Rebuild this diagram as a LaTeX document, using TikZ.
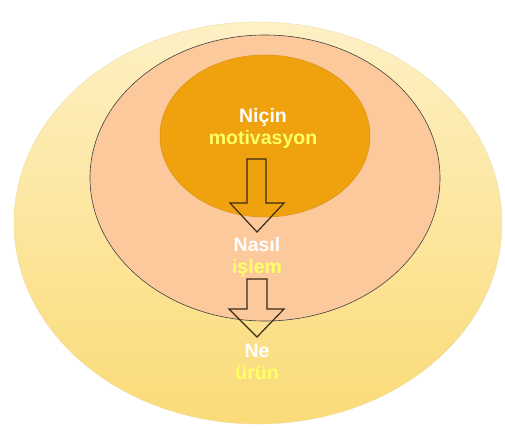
\documentclass[tikz,border=0pt]{standalone}
\usepackage{fontspec}
\setmainfont{Liberation Sans}
\begin{document}
\begin{tikzpicture}[x=1pt,y=-1pt,
  whitetxt/.style={font=\bfseries\fontsize{19.5}{22}\selectfont, text=white, inner sep=0pt},
  yeltxt/.style={font=\bfseries\fontsize{19.5}{22}\selectfont, text=yellowtxt, inner sep=0pt},
  bigarrow/.style={draw=arrowc, line width=1.2pt, line join=miter}]
\definecolor{outerA}{HTML}{FDF0C4}
\definecolor{outerB}{HTML}{FBDB78}
\definecolor{midc}{HTML}{FBC99C}
\definecolor{innerc}{HTML}{EFA20E}
\definecolor{innerd}{HTML}{D98E10}
\definecolor{arrowc}{HTML}{3A2A18}
\definecolor{yellowtxt}{HTML}{FFFF66}
\useasboundingbox (0,0) rectangle (505,430);
\fill[white] (0,0) rectangle (505,430);
% outer ellipse
\shade[shading angle=200, top color=outerA, bottom color=outerB, draw=outerB!80!black!30!outerA, line width=0.4pt]
  (258,223) ellipse [x radius=244, y radius=201];
% middle ellipse
\filldraw[fill=midc, draw=black!75, line width=0.6pt] (265,178) ellipse [x radius=175, y radius=143];
% inner circle
\filldraw[fill=innerc, draw=innerd, line width=0.5pt] (265,136) ellipse [x radius=105, y radius=81];
% texts
\node[whitetxt] (nicin) at (263,117) {Niçin};
\node[yeltxt] (motiv) at (263,139) {motivasyon};
\node[whitetxt] (nasil) at (257,245) {Nasıl};
\node[yeltxt] (islem) at (257,268) {işlem};
\node[whitetxt] (ne) at (257,351) {Ne};
\node[yeltxt] (urun) at (257,373) {ürün};
% arrows
\draw[bigarrow] (247,159) -- (266,159) -- (266,203) -- (284,203) -- (257,232) -- (230,203) -- (247,203) -- cycle;
\draw[bigarrow] (247,279) -- (267,279) -- (267,309) -- (284,309) -- (257,337) -- (229,309) -- (247,309) -- cycle;
\end{tikzpicture}
\end{document}
